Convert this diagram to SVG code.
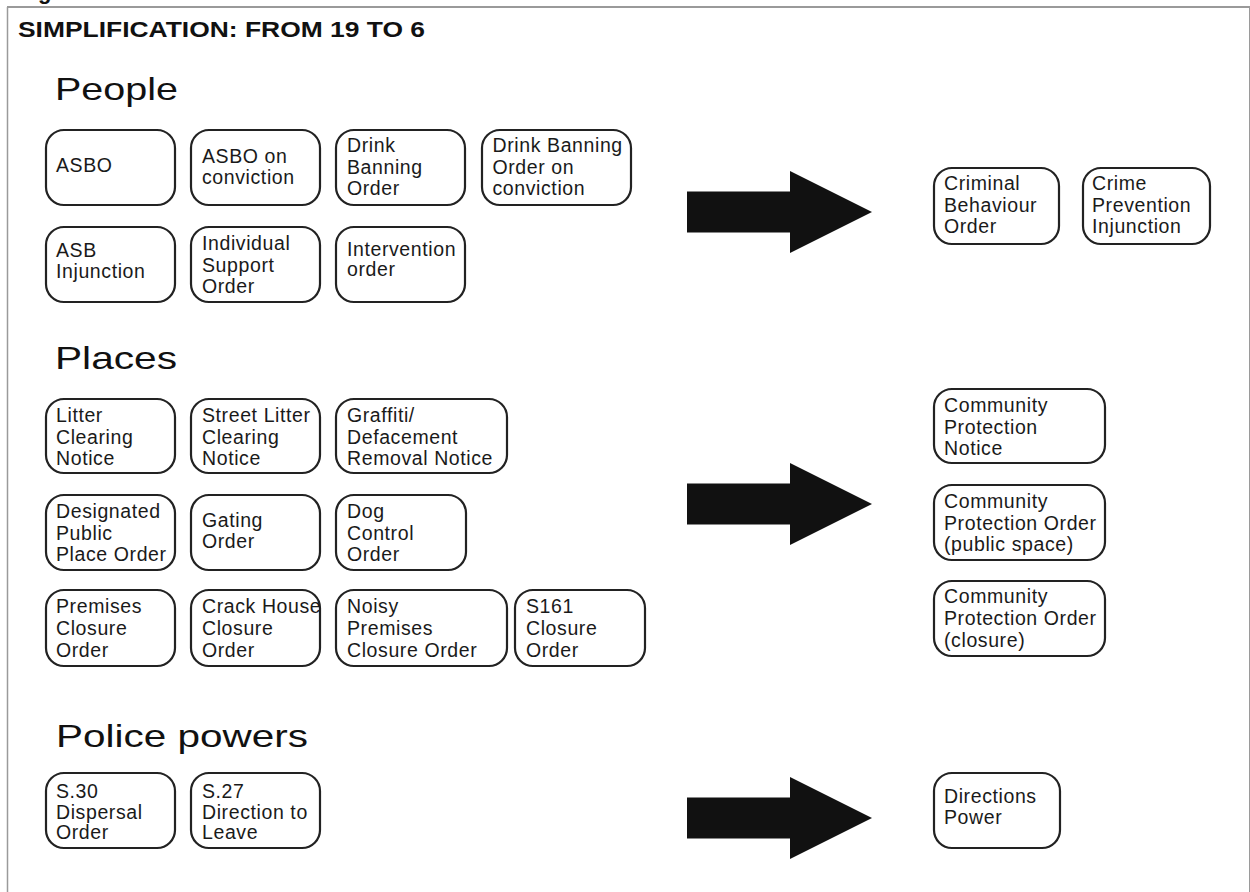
<svg xmlns="http://www.w3.org/2000/svg" width="1250" height="892" viewBox="0 0 1250 892">
<style>
.frame{stroke:#9a9a9a;fill:none}
.box{fill:#fff;stroke:#222;stroke-width:2.2}
.t{font-family:"Liberation Sans",Arial,sans-serif;font-size:19.5px;letter-spacing:0.6px;fill:#1a1a1a}
.h{font-family:"Liberation Sans",Arial,sans-serif;font-size:32px;fill:#111}
.title{font-family:"Liberation Sans",Arial,sans-serif;font-size:22px;font-weight:bold;fill:#111}
.arrow{fill:#111}
</style>
<rect width="1250" height="892" fill="#fff"/>
<line class="frame" x1="7" y1="7" x2="1250" y2="7" stroke-width="2"/>
<line class="frame" x1="7.5" y1="7" x2="7.5" y2="892" stroke-width="1.5"/>
<line class="frame" x1="1249.5" y1="7" x2="1249.5" y2="892" stroke-width="1" stroke="#cfcfcf"/>
<text class="title" x="38" y="-1">g</text>
<text class="title" x="18" y="37" textLength="407" lengthAdjust="spacingAndGlyphs">SIMPLIFICATION: FROM 19 TO 6</text>
<text class="h" x="55" y="100" textLength="123" lengthAdjust="spacingAndGlyphs">People</text>
<text class="h" x="55" y="369" textLength="122" lengthAdjust="spacingAndGlyphs">Places</text>
<text class="h" x="56" y="747" textLength="252" lengthAdjust="spacingAndGlyphs">Police powers</text>

<g id="connectors">
<polygon class="arrow" points="687,191.5 790,191.5 790,171 872,212 790,253 790,232.5 687,232.5"/>
<polygon class="arrow" points="687,483.5 790,483.5 790,463 872,504 790,545 790,524.5 687,524.5"/>
<polygon class="arrow" points="687,797.5 790,797.5 790,777 872,818 790,859 790,838.5 687,838.5"/>
</g>

<g id="asbo"><rect class="box" x="46" y="130" width="129" height="75" rx="18"/><text class="t" x="56" y="172">ASBO</text></g>
<g id="asbo-conviction"><rect class="box" x="191" y="130" width="129" height="75" rx="18"/><text class="t"><tspan x="202" y="163">ASBO on</tspan><tspan x="202" y="184">conviction</tspan></text></g>
<g id="drink-banning"><rect class="box" x="336" y="130" width="129" height="75" rx="18"/><text class="t"><tspan x="347" y="152">Drink</tspan><tspan x="347" y="173.5">Banning</tspan><tspan x="347" y="195">Order</tspan></text></g>
<g id="drink-banning-conviction"><rect class="box" x="482" y="130" width="149" height="75" rx="18"/><text class="t"><tspan x="492.5" y="152">Drink Banning</tspan><tspan x="492.5" y="173.5">Order on</tspan><tspan x="492.5" y="195">conviction</tspan></text></g>
<g id="asb-injunction"><rect class="box" x="46" y="227" width="129" height="75" rx="18"/><text class="t"><tspan x="56" y="257">ASB</tspan><tspan x="56" y="278">Injunction</tspan></text></g>
<g id="individual-support"><rect class="box" x="191" y="227" width="129" height="75" rx="18"/><text class="t"><tspan x="202" y="250">Individual</tspan><tspan x="202" y="271.5">Support</tspan><tspan x="202" y="293">Order</tspan></text></g>
<g id="intervention"><rect class="box" x="336" y="227" width="129" height="75" rx="18"/><text class="t"><tspan x="347" y="256">Intervention</tspan><tspan x="347" y="276">order</tspan></text></g>

<g id="criminal-behaviour"><rect class="box" x="934" y="168" width="125" height="76" rx="18"/><text class="t"><tspan x="944" y="190">Criminal</tspan><tspan x="944" y="211.5">Behaviour</tspan><tspan x="944" y="233">Order</tspan></text></g>
<g id="crime-prevention"><rect class="box" x="1083" y="168" width="127" height="76" rx="18"/><text class="t"><tspan x="1092" y="190">Crime</tspan><tspan x="1092" y="211.5">Prevention</tspan><tspan x="1092" y="233">Injunction</tspan></text></g>

<g id="litter-clearing"><rect class="box" x="46" y="399" width="129" height="74" rx="18"/><text class="t"><tspan x="56" y="422">Litter</tspan><tspan x="56" y="443.5">Clearing</tspan><tspan x="56" y="465">Notice</tspan></text></g>
<g id="street-litter"><rect class="box" x="191" y="399" width="129" height="74" rx="18"/><text class="t"><tspan x="202" y="422">Street Litter</tspan><tspan x="202" y="443.5">Clearing</tspan><tspan x="202" y="465">Notice</tspan></text></g>
<g id="graffiti"><rect class="box" x="336" y="399" width="171" height="74" rx="18"/><text class="t"><tspan x="347" y="422">Graffiti/</tspan><tspan x="347" y="443.5">Defacement</tspan><tspan x="347" y="465">Removal Notice</tspan></text></g>
<g id="designated-public"><rect class="box" x="46" y="495" width="129" height="75" rx="18"/><text class="t"><tspan x="56" y="518">Designated</tspan><tspan x="56" y="539.5">Public</tspan><tspan x="56" y="561">Place Order</tspan></text></g>
<g id="gating"><rect class="box" x="191" y="495" width="129" height="75" rx="18"/><text class="t"><tspan x="202" y="527">Gating</tspan><tspan x="202" y="548">Order</tspan></text></g>
<g id="dog-control"><rect class="box" x="336" y="495" width="130" height="75" rx="18"/><text class="t"><tspan x="347" y="518">Dog</tspan><tspan x="347" y="539.5">Control</tspan><tspan x="347" y="561">Order</tspan></text></g>
<g id="premises-closure"><rect class="box" x="46" y="590" width="129" height="76" rx="18"/><text class="t"><tspan x="56" y="613">Premises</tspan><tspan x="56" y="635">Closure</tspan><tspan x="56" y="657">Order</tspan></text></g>
<g id="crack-house"><rect class="box" x="191" y="590" width="129" height="76" rx="18"/><text class="t"><tspan x="202" y="613">Crack House</tspan><tspan x="202" y="635">Closure</tspan><tspan x="202" y="657">Order</tspan></text></g>
<g id="noisy-premises"><rect class="box" x="336" y="590" width="171" height="76" rx="18"/><text class="t"><tspan x="347" y="613">Noisy</tspan><tspan x="347" y="635">Premises</tspan><tspan x="347" y="657">Closure Order</tspan></text></g>
<g id="s161"><rect class="box" x="515" y="590" width="130" height="76" rx="18"/><text class="t"><tspan x="526" y="613">S161</tspan><tspan x="526" y="635">Closure</tspan><tspan x="526" y="657">Order</tspan></text></g>

<g id="cpn"><rect class="box" x="934" y="389" width="171" height="74" rx="18"/><text class="t"><tspan x="944" y="412">Community</tspan><tspan x="944" y="433.5">Protection</tspan><tspan x="944" y="455">Notice</tspan></text></g>
<g id="cpo-public"><rect class="box" x="934" y="485" width="171" height="75" rx="18"/><text class="t"><tspan x="944" y="508">Community</tspan><tspan x="944" y="529.5">Protection Order</tspan><tspan x="944" y="551">(public space)</tspan></text></g>
<g id="cpo-closure"><rect class="box" x="934" y="581" width="171" height="75" rx="18"/><text class="t"><tspan x="944" y="603">Community</tspan><tspan x="944" y="625">Protection Order</tspan><tspan x="944" y="647">(closure)</tspan></text></g>

<g id="s30"><rect class="box" x="46" y="773" width="129" height="75" rx="18"/><text class="t"><tspan x="56" y="797.5">S.30</tspan><tspan x="56" y="818.5">Dispersal</tspan><tspan x="56" y="839">Order</tspan></text></g>
<g id="s27"><rect class="box" x="191" y="773" width="129" height="75" rx="18"/><text class="t"><tspan x="202" y="797.5">S.27</tspan><tspan x="202" y="818.5">Direction to</tspan><tspan x="202" y="839">Leave</tspan></text></g>
<g id="directions-power"><rect class="box" x="934" y="773" width="126" height="75" rx="18"/><text class="t"><tspan x="944" y="803">Directions</tspan><tspan x="944" y="824">Power</tspan></text></g>
</svg>
